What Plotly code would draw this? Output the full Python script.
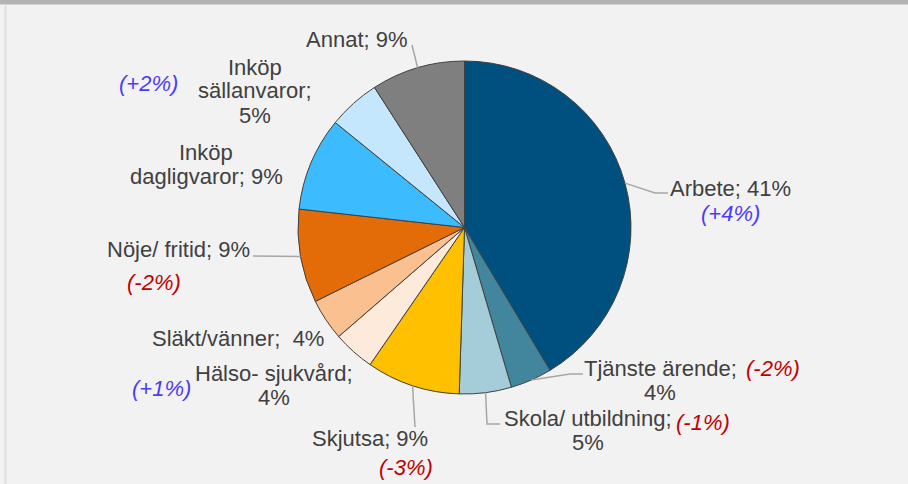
import math
import plotly.graph_objects as go

# Data (share of trips, change vs earlier survey)
categories = ["Arbete", "Tjänste ärende", "Skola/ utbildning", "Skjutsa",
              "Hälso- sjukvård", "Släkt/vänner", "Nöje/ fritid",
              "Inköp|dagligvaror", "Inköp|sällanvaror", "Annat"]
shares = [41, 4, 5, 9, 4, 4, 9, 9, 5, 9]
changes = ["+4%", "-2%", "-1%", "-3%", "+1%", None, "-2%", None, "+2%", None]

colors = ["#00507f", "#41869c", "#a5cdd9", "#ffc000", "#fdeada",
          "#fac090", "#e36c09", "#3dbbff", "#c5e7fd", "#7f7f7f"]

# label layout: how each label wraps ("|" = new line)
label_fmt = ["{c}; {v}%", "{c};|{v}%", "{c};|{v}%", "{c}; {v}%", "{c};|{v}%",
             "{c};  {v}%", "{c}; {v}%", "{c}; {v}%", "{c};|{v}%", "{c}; {v}%"]

W, H = 908, 484
# pie geometry in pixels
CX, CY, R = 464.5, 227.5, 166.5

# label centres (px) of the first line, change-label centres, leader elbows
label_pos = [(730, 188), (660, 368), (588, 418), (370, 438), (274, 373),
             (238, 338), (178, 250), (206, 152), (255, 67), (357, 40)]
change_pos = [(730, 213), (773, 368), (703, 422), (406, 467), (161, 388),
              None, (154, 282), None, (148, 83), None]
leaders = {0: [(655, 193), (668, 193)],
           1: [(570, 374), (583, 374)],
           2: [(487, 424), (500, 424)],
           3: [(415, 427)],
           6: [(253, 256)],
           9: [(412, 45)]}
LINE_H = 24


def px(x):
    return x / W


def py(y):
    return 1 - y / H


fig = go.Figure(go.Pie(
    labels=[c.replace("|", " ") for c in categories],
    values=shares,
    sort=False,
    direction="clockwise",
    rotation=0,
    marker=dict(colors=colors, line=dict(color="#404040", width=1)),
    textinfo="none",
    domain=dict(x=[px(CX - R), px(CX + R)], y=[py(CY + R), py(CY - R)]),
))

annotations = []
shapes = []
total = sum(shares)
cum = 0
for i, (c, v) in enumerate(zip(categories, shares)):
    mid = 2 * math.pi * (cum + v / 2) / total
    cum += v
    text = label_fmt[i].format(c=c, v=v)
    lx, ly = label_pos[i]
    for k, line in enumerate(text.split("|")):
        annotations.append(dict(
            x=px(lx), y=py(ly + k * LINE_H), xref="paper", yref="paper",
            text=line, showarrow=False, xanchor="center", yanchor="middle",
            font=dict(family="Liberation Sans, Arial", size=22, color="#404040")))
    if changes[i]:
        cx, cy = change_pos[i]
        col = "#4b3cf5" if changes[i].startswith("+") else "#c00000"
        annotations.append(dict(
            x=px(cx), y=py(cy), xref="paper", yref="paper",
            text="<i>(" + changes[i] + ")</i>", showarrow=False,
            xanchor="center", yanchor="middle",
            font=dict(family="Liberation Sans, Arial", size=22, color=col)))
    if i in leaders:
        ex = CX + R * math.sin(mid)
        ey = CY - R * math.cos(mid)
        pts = [(ex, ey)] + leaders[i]
        path = "M " + " L ".join(f"{px(x)},{py(y)}" for x, y in pts)
        shapes.append(dict(type="path", path=path, xref="paper", yref="paper",
                           line=dict(color="#a6a6a6", width=1.5)))

# frame: grey top bar and faint left edge
shapes.append(dict(type="rect", xref="paper", yref="paper", x0=0, x1=1,
                   y0=py(4.5), y1=1, fillcolor="#b3b3b3", line=dict(width=0),
                   layer="below"))
shapes.append(dict(type="rect", xref="paper", yref="paper", x0=px(4.5), x1=px(6.5),
                   y0=0, y1=py(4.5), fillcolor="#dedede", line=dict(width=0),
                   layer="below"))

fig.update_layout(
    width=W, height=H, autosize=False,
    margin=dict(l=0, r=0, t=0, b=0),
    paper_bgcolor="#f2f2f2",
    plot_bgcolor="#f2f2f2",
    showlegend=False,
    annotations=annotations,
    shapes=shapes,
)

# drop the page's default body margin so the figure sits at the window corner
fig.write_html("out.html", config={"displayModeBar": False},
               post_script="document.body.style.margin='0';")
